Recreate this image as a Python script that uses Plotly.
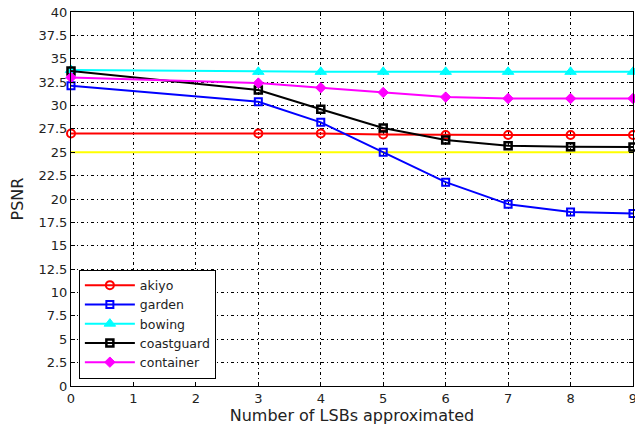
import plotly.graph_objects as go

x_lsb = [0, 3, 4, 5, 6, 7, 8, 9]
akiyo = [27.0, 27.0, 27.0, 26.9, 26.85, 26.85, 26.85, 26.85]
garden = [32.1, 30.4, 28.2, 25.0, 21.8, 19.45, 18.6, 18.45]
bowing = [33.8, 33.6, 33.6, 33.6, 33.6, 33.6, 33.6, 33.6]
coastguard = [33.7, 31.65, 29.6, 27.6, 26.3, 25.7, 25.6, 25.55]
container = [33.0, 32.4, 31.9, 31.4, 30.9, 30.75, 30.75, 30.75]
threshold_x = [0, 9]
threshold_y = [25, 25]

y_ticks = [i * 2.5 for i in range(17)]
x_ticks = list(range(10))

series = [
    ("akiyo", akiyo, "#ff0000", "circle-open", 8, 2),
    ("garden", garden, "#0000ff", "square-open", 7, 2),
    ("bowing", bowing, "#00ffff", "triangle-up", 10, 1),
    ("coastguard", coastguard, "#000000", "square-open", 7, 2.5),
    ("container", container, "#ff00ff", "diamond", 8, 1),
]

fig = go.Figure()
fig.add_trace(go.Scatter(x=threshold_x, y=threshold_y, mode="lines",
                         line=dict(color="#ffff00", width=2), showlegend=False))
for name, vals, col, sym, sz, lw in series:
    fig.add_trace(go.Scatter(
        x=x_lsb, y=vals, name=name, mode="lines+markers",
        line=dict(color=col, width=2),
        marker=dict(symbol=sym, size=sz, color=col, line=dict(color=col, width=lw)),
        cliponaxis=False,
    ))

axis_common = dict(
    showline=True, linecolor="#000000", linewidth=1, mirror="allticks",
    ticks="inside", ticklen=4, tickcolor="#000000",
    showgrid=True, gridcolor="#000000", gridwidth=1, griddash="3px,3px,1px,3px",
    zeroline=False, ticklabeloverflow="allow",
    tickfont=dict(family="DejaVu Sans", size=13, color="#222222"),
)

fig.update_xaxes(range=[0, 9], tickvals=x_ticks, **axis_common,
                 title=dict(text="Number of LSBs approximated",
                            font=dict(family="DejaVu Sans", size=16, color="#222222"),
                            standoff=0))
fig.update_yaxes(range=[0, 40], tickvals=y_ticks, **axis_common,
                 title=dict(text="PSNR",
                            font=dict(family="DejaVu Sans", size=16, color="#222222"),
                            standoff=10))

fig.update_layout(
    width=635, height=425,
    margin=dict(l=71, r=2, t=12, b=39, autoexpand=False),
    paper_bgcolor="#ffffff", plot_bgcolor="#ffffff",
    showlegend=True,
    legend=dict(x=0.014, y=0.02, xanchor="left", yanchor="bottom",
                bgcolor="#ffffff", bordercolor="#000000", borderwidth=1,
                font=dict(family="DejaVu Sans", size=12.5, color="#222222"),
                tracegroupgap=0, itemwidth=50),
)

fig.write_html("out.html",
               config={"displayModeBar": False},
               post_script="document.body.style.margin='0';document.body.style.overflow='hidden';")
